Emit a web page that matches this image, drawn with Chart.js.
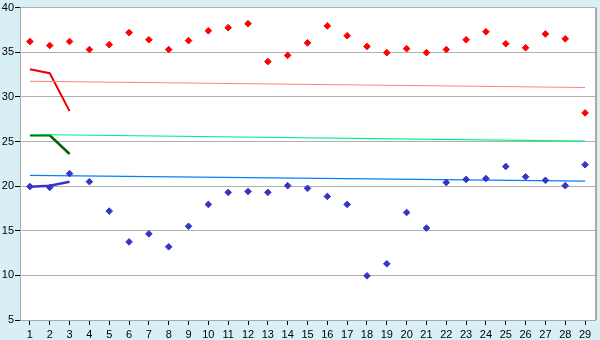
<!DOCTYPE html>
<html>
<head>
<meta charset="utf-8">
<script src="https://cdn.jsdelivr.net/npm/chart.js@4/dist/chart.umd.min.js"></script>
<style>
  html, body { margin: 0; padding: 0; background: #d9eff6; }
  #wrap { width: 600px; height: 340px; }
</style>
</head>
<body>
<div id="wrap"><canvas id="myChart" width="600" height="340"></canvas></div>
<script>
const categories = ['1','2','3','4','5','6','7','8','9','10','11','12','13','14','15','16','17','18','19','20','21','22','23','24','25','26','27','28','29'];

const redPoints = [36.2, 35.75, 36.2, 35.3, 35.85, 37.2, 36.4, 35.3, 36.3, 37.4, 37.75, 38.2, 33.95, 34.65, 36.05, 37.95, 36.85, 35.65, 34.95, 35.4, 34.95, 35.3, 36.4, 37.3, 35.95, 35.5, 37.05, 36.5, 28.2];
const bluePoints = [19.95, 19.85, 21.4, 20.5, 17.2, 13.75, 14.65, 13.2, 15.5, 17.95, 19.3, 19.4, 19.3, 20.05, 19.75, 18.85, 17.95, 9.95, 11.3, 17.05, 15.3, 20.4, 20.75, 20.85, 22.2, 21.05, 20.65, 20.05, 22.4];

// long trend lines: only the two end values are given
const redTrend = [31.75, ...Array(27).fill(null), 31.05];
const greenTrend = [25.78, ...Array(27).fill(null), 25.05];
const blueTrend = [21.2, ...Array(27).fill(null), 20.55];

// short lines over the first three categories
const redShort = [33.1, 32.65, 28.4];
const greenShort = [25.7, 25.7, 23.6];
const blueShort = [19.93, 20.05, 20.48];

const yTicks = [5, 10, 15, 20, 25, 30, 35, 40];

const bgPlugin = {
    id: 'bg',
    beforeDraw(chart) {
        const c = chart.ctx, a = chart.chartArea;
        c.save();
        c.fillStyle = '#d9eff6';
        c.fillRect(0, 0, chart.width, chart.height);
        c.fillStyle = '#ffffff';
        c.fillRect(a.left, a.top, a.right - a.left, a.bottom - a.top);
        c.restore();
    },
    afterDraw(chart) {
        const c = chart.ctx, a = chart.chartArea;
        c.save();
        c.strokeStyle = '#a8a8a8';
        c.lineWidth = 2;
        c.beginPath();
        c.moveTo(a.right + 1, a.top);
        c.lineTo(a.right + 1, a.bottom);
        c.stroke();
        c.restore();
    }
};

const pointSet = (data, color) => ({
    data: data,
    showLine: false,
    pointStyle: 'rectRot',
    pointRadius: 3.3,
    pointBackgroundColor: color,
    pointBorderColor: color,
    pointBorderWidth: 1,
    order: 0
});

const lineSet = (data, color, width) => ({
    data: data,
    borderColor: color,
    borderWidth: width,
    pointRadius: 0,
    spanGaps: true,
    tension: 0,
    fill: false,
    order: 1
});

const tickFont = { family: 'Liberation Sans', size: 11 };

const ctx = document.getElementById('myChart').getContext('2d');
new Chart(ctx, {
    type: 'line',
    data: {
        labels: categories,
        datasets: [
            lineSet(redTrend, '#ff8080', 1.2),
            lineSet(greenTrend, '#00f080', 1.2),
            lineSet(blueTrend, '#0080ff', 1.2),
            lineSet(redShort, '#ee0000', 2),
            lineSet(greenShort, '#006400', 2.5),
            lineSet(blueShort, '#3535c8', 2.5),
            pointSet(redPoints, '#ff0000'),
            pointSet(bluePoints, '#3535c8')
        ]
    },
    options: {
        responsive: false,
        animation: false,
        layout: { padding: { top: 5, right: 5, left: 0, bottom: 0 } },
        plugins: { legend: { display: false }, tooltip: { enabled: false } },
        scales: {
            x: {
                offset: true,
                grid: { drawOnChartArea: false, drawTicks: true, tickLength: 5, tickColor: '#000000', offset: false },
                border: { color: '#a8a8a8', width: 1 },
                ticks: { color: '#000000', font: tickFont, padding: 3, maxRotation: 0, autoSkip: false },
                afterFit(s) { s.height = 20; }
            },
            y: {
                min: 5,
                max: 40,
                afterBuildTicks(s) { s.ticks = yTicks.map(v => ({ value: v })); },
                grid: { color: '#b0b0b0', lineWidth: 1, tickLength: 5, tickColor: '#000000' },
                border: { color: '#a8a8a8', width: 1 },
                ticks: { color: '#000000', font: tickFont, padding: 1 },
                afterFit(s) { s.width = 20; }
            }
        }
    },
    plugins: [bgPlugin]
});
</script>
</body>
</html>
